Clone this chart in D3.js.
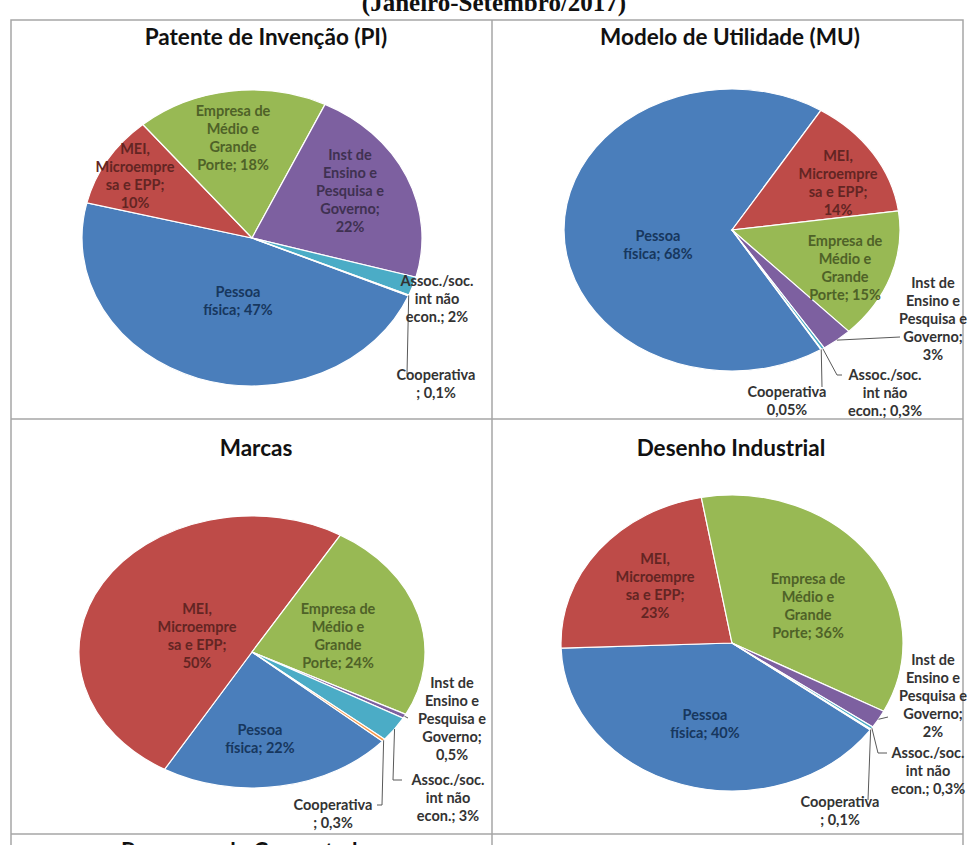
<!DOCTYPE html>
<html>
<head>
<meta charset="utf-8">
<script src="https://cdn.jsdelivr.net/npm/d3@7"></script>
<style>
  body { margin: 0; background: #fff; }
  svg { display: block; }
</style>
</head>
<body>
<div class="charts"></div>
<script>
// categories, in the order the slices are drawn (clockwise)
const categories = [
  'Pessoa física',
  'MEI, Microempresa e EPP',
  'Empresa de Médio e Grande Porte',
  'Inst de Ensino e Pesquisa e Governo',
  'Assoc./soc. int não econ.',
  'Cooperativa'
];

// percentages
const piValues = [47, 10, 18, 22, 2, 0.1];
const muValues = [68, 14, 15, 3, 0.3, 0.05];
const marcasValues = [22, 50, 24, 0.5, 3, 0.3];
const desenhoValues = [40, 23, 36, 2, 0.3, 0.1];

const chartTitles = [
  'Patente de Invenção (PI)',
  'Modelo de Utilidade (MU)',
  'Marcas',
  'Desenho Industrial'
];

// label text, {p} is the percentage
const labelLines = [
  ['Pessoa', 'física; {p}'],
  ['MEI,', 'Microempre', 'sa e EPP;', '{p}'],
  ['Empresa de', 'Médio e', 'Grande', 'Porte; {p}'],
  ['Inst de', 'Ensino e', 'Pesquisa e', 'Governo;', '{p}'],
  ['Assoc./soc.', 'int não', 'econ.; {p}'],
  ['Cooperativa', '; {p}']
];

const colors = ['#4a7ebb', '#be4b48', '#98b954', '#7d60a0', '#4bacc6', '#f79646'];
const labelColors = ['#17375e', '#632523', '#4f6228', '#3f3151', '#333', '#333'];

// layout of each pie: centre, radii, first slice angle and label offsets
const layouts = [
  {
    cx: 252, cy: 238, rx: 170, ry: 148, start: 113, titleX: 266, titleY: 36,
    labels: [[-14, 62], [-117, -63], [-19, -101], [98, -48], [185, 60], [184, 145]],
    outside: [false, false, false, false, true, true],
    leaders: [null, null, null, null, null, [[155, 136]]]
  },
  {
    cx: 732, cy: 230, rx: 168, ry: 141, start: 148, titleX: 730, titleY: 36,
    labels: [[-74, 14], [106, -48], [113, 37], [201, 88], [153, 162], [55, 170]],
    outside: [false, false, false, true, true, true],
    leaders: [null, null, null, [[168, 107]], [[105, 145], [110, 145]], [[90, 157]]],
    coopLines: ['Cooperativa', '{p}']
  },
  {
    cx: 252, cy: 652, rx: 173, ry: 136, start: 131, titleX: 256, titleY: 447,
    labels: [[8, 86], [-55, -17], [86, -17], [200, 66], [196, 145], [81, 161]],
    outside: [false, false, false, true, true, true],
    leaders: [null, null, null, [[156, 66]], [[141, 128], [150, 128]], [[130, 153], [125, 153]]]
  },
  {
    cx: 732, cy: 643, rx: 171, ry: 148, start: 126, titleX: 731, titleY: 447,
    labels: [[-27, 80], [-77, -58], [76, -38], [201, 52], [196, 127], [108, 167]],
    outside: [false, false, false, true, true, true],
    leaders: [null, null, null, [[156, 74]], [[146, 110], [155, 110]], [[136, 157]]]
  }
];

const allValues = [piValues, muValues, marcasValues, desenhoValues];

const w = 967;
const h = 845;
const fontSans = 'Lato, "Open Sans", sans-serif';
const lineH = 18;

const svg = d3.select('.charts')
  .append('svg')
  .attr('width', w)
  .attr('height', h)
  .attr('viewBox', `0 0 ${w} ${h}`);

// title of the whole figure, cut off at the top
svg.append('text')
  .attr('x', 494)
  .attr('y', 11)
  .attr('text-anchor', 'middle')
  .attr('font-family', '"Liberation Serif", serif')
  .attr('font-weight', 'bold')
  .attr('font-size', 25)
  .attr('fill', '#111')
  .text('(Janeiro-Setembro/2017)');

// table grid
const grid = svg.append('g')
  .attr('stroke', '#a6a6a6')
  .attr('stroke-width', 1.5)
  .attr('fill', 'none');
grid.append('path').attr('d', `M11,${h + 5}V20H963V${h + 5}`);
grid.append('line').attr('x1', 492).attr('x2', 492).attr('y1', 20).attr('y2', h + 5);
grid.append('line').attr('x1', 11).attr('x2', 963).attr('y1', 419).attr('y2', 419);
grid.append('line').attr('x1', 11).attr('x2', 963).attr('y1', 834).attr('y2', 834);

// next table row, only its title shows
svg.append('text')
  .attr('x', 250)
  .attr('y', 859)
  .attr('text-anchor', 'middle')
  .attr('font-family', fontSans)
  .attr('font-weight', 'bold')
  .attr('font-size', 22.5)
  .attr('fill', '#111')
  .text('Programa de Computador');

const fmtPct = v => String(v).replace('.', ',') + '%';

allValues.forEach((values, ci) => {
  const lay = layouts[ci];
  const a0 = lay.start * Math.PI / 180;
  const pie = d3.pie().sort(null).startAngle(a0).endAngle(a0 + 2 * Math.PI);
  const arcs = pie(values);
  const arc = d3.arc().innerRadius(0).outerRadius(lay.ry);

  svg.append('text')
    .attr('x', lay.titleX)
    .attr('y', lay.titleY)
    .attr('text-anchor', 'middle')
    .attr('dominant-baseline', 'central')
    .attr('font-family', fontSans)
    .attr('font-weight', 'bold')
    .attr('font-size', 22.5)
    .attr('fill', '#111')
    .text(chartTitles[ci]);

  svg.append('g')
    .attr('transform', `translate(${lay.cx},${lay.cy}) scale(${lay.rx / lay.ry},1)`)
    .selectAll('path')
    .data(arcs)
    .enter()
    .append('path')
    .attr('d', arc)
    .attr('fill', (d, i) => colors[i])
    .attr('stroke', '#fff')
    .attr('stroke-width', 1.2)
    .attr('vector-effect', 'non-scaling-stroke');

  // leader lines from slice edge to the label
  arcs.forEach((d, i) => {
    const pts = lay.leaders[i];
    if (!pts) return;
    const mid = (d.startAngle + d.endAngle) / 2;
    const p0 = [lay.cx + lay.rx * Math.sin(mid), lay.cy - lay.ry * Math.cos(mid)];
    const line = [p0].concat(pts.map(p => [lay.cx + p[0], lay.cy + p[1]]));
    svg.append('path')
      .attr('d', d3.line()(line))
      .attr('fill', 'none')
      .attr('stroke', '#595959')
      .attr('stroke-width', 1);
  });

  // data labels
  arcs.forEach((d, i) => {
    let lines = labelLines[i];
    if (i === 5 && lay.coopLines) lines = lay.coopLines;
    lines = lines.map(s => s.replace('{p}', fmtPct(values[i])));
    const off = lay.labels[i];
    const t = svg.append('text')
      .attr('text-anchor', 'middle')
      .attr('font-family', fontSans)
      .attr('font-weight', 'bold')
      .attr('font-size', 14.5)
      .attr('fill', lay.outside[i] ? '#333' : labelColors[i]);
    lines.forEach((s, li) => {
      t.append('tspan')
        .attr('x', lay.cx + off[0])
        .attr('y', lay.cy + off[1] + (li - (lines.length - 1) / 2) * lineH)
        .attr('dominant-baseline', 'central')
        .text(s);
    });
  });
});
</script>
</body>
</html>
